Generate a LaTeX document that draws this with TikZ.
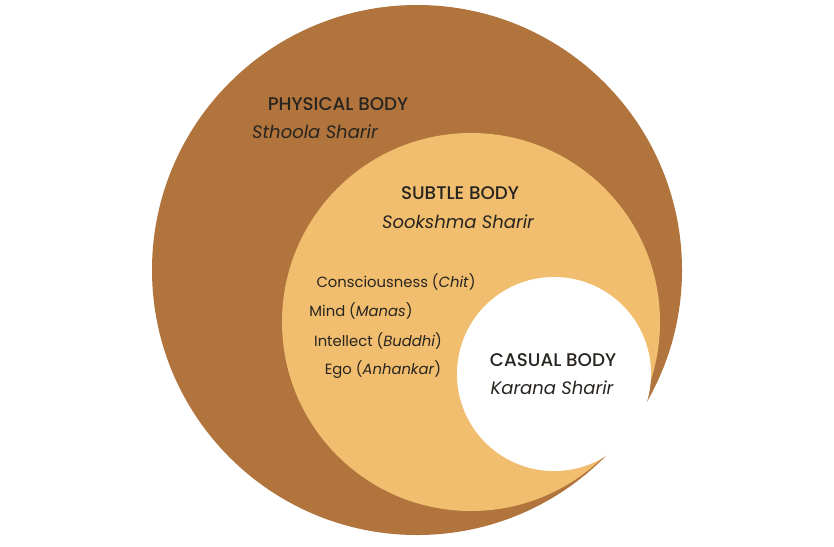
\documentclass[tikz,border=0pt]{standalone}
\usepackage{fontspec}
\setmainfont{Poppins}[BoldFont={* Medium},BoldItalicFont={* Medium Italic}]
\definecolor{physbrown}{RGB}{176,116,60}
\definecolor{subtletan}{RGB}{240,190,110}
\definecolor{inkdark}{RGB}{40,36,32}
\tikzset{
  body/.style={circle, inner sep=0pt},
  head/.style={text=inkdark, font=\fontsize{18.3}{21}\selectfont\bfseries},
  sub/.style={text=inkdark, font=\fontsize{18}{21}\selectfont\itshape},
  item/.style={text=inkdark, font=\fontsize{14.8}{17}\selectfont}
}
\begin{document}
\begin{tikzpicture}[x=1pt,y=-1pt]
        \useasboundingbox (0,0) rectangle (834,546);
        
        \node[fill=physbrown, body, minimum size=530pt] (physical) at (417,270) {};
        \node[fill=subtletan, body, minimum size=378pt] (subtle) at (471,322) {};
        \node[fill=white, body, minimum size=194pt] (casual) at (554,374) {};
        
        \node[head] (phys) at (338,104) {PHYSICAL BODY};
        \node[sub] (sthoola) at (315,132) {Sthoola Sharir};
        \node[head] (subt) at (460,193) {SUBTLE BODY};
        \node[sub] (sookshma) at (458,222) {Sookshma Sharir};
        \node[head] (cas) at (553,360) {CASUAL BODY};
        \node[sub] (karana) at (552,388) {Karana Sharir};
        
        \node[item] (chit) at (396,282) {Consciousness (\textit{Chit})};
        \node[item] (manas) at (361,311) {Mind (\textit{Manas})};
        \node[item] (buddhi) at (378,341) {Intellect (\textit{Buddhi})};
        \node[item] (ego) at (383,370) {Ego (\textit{Anhankar})};
        
\end{tikzpicture}
\end{document}
